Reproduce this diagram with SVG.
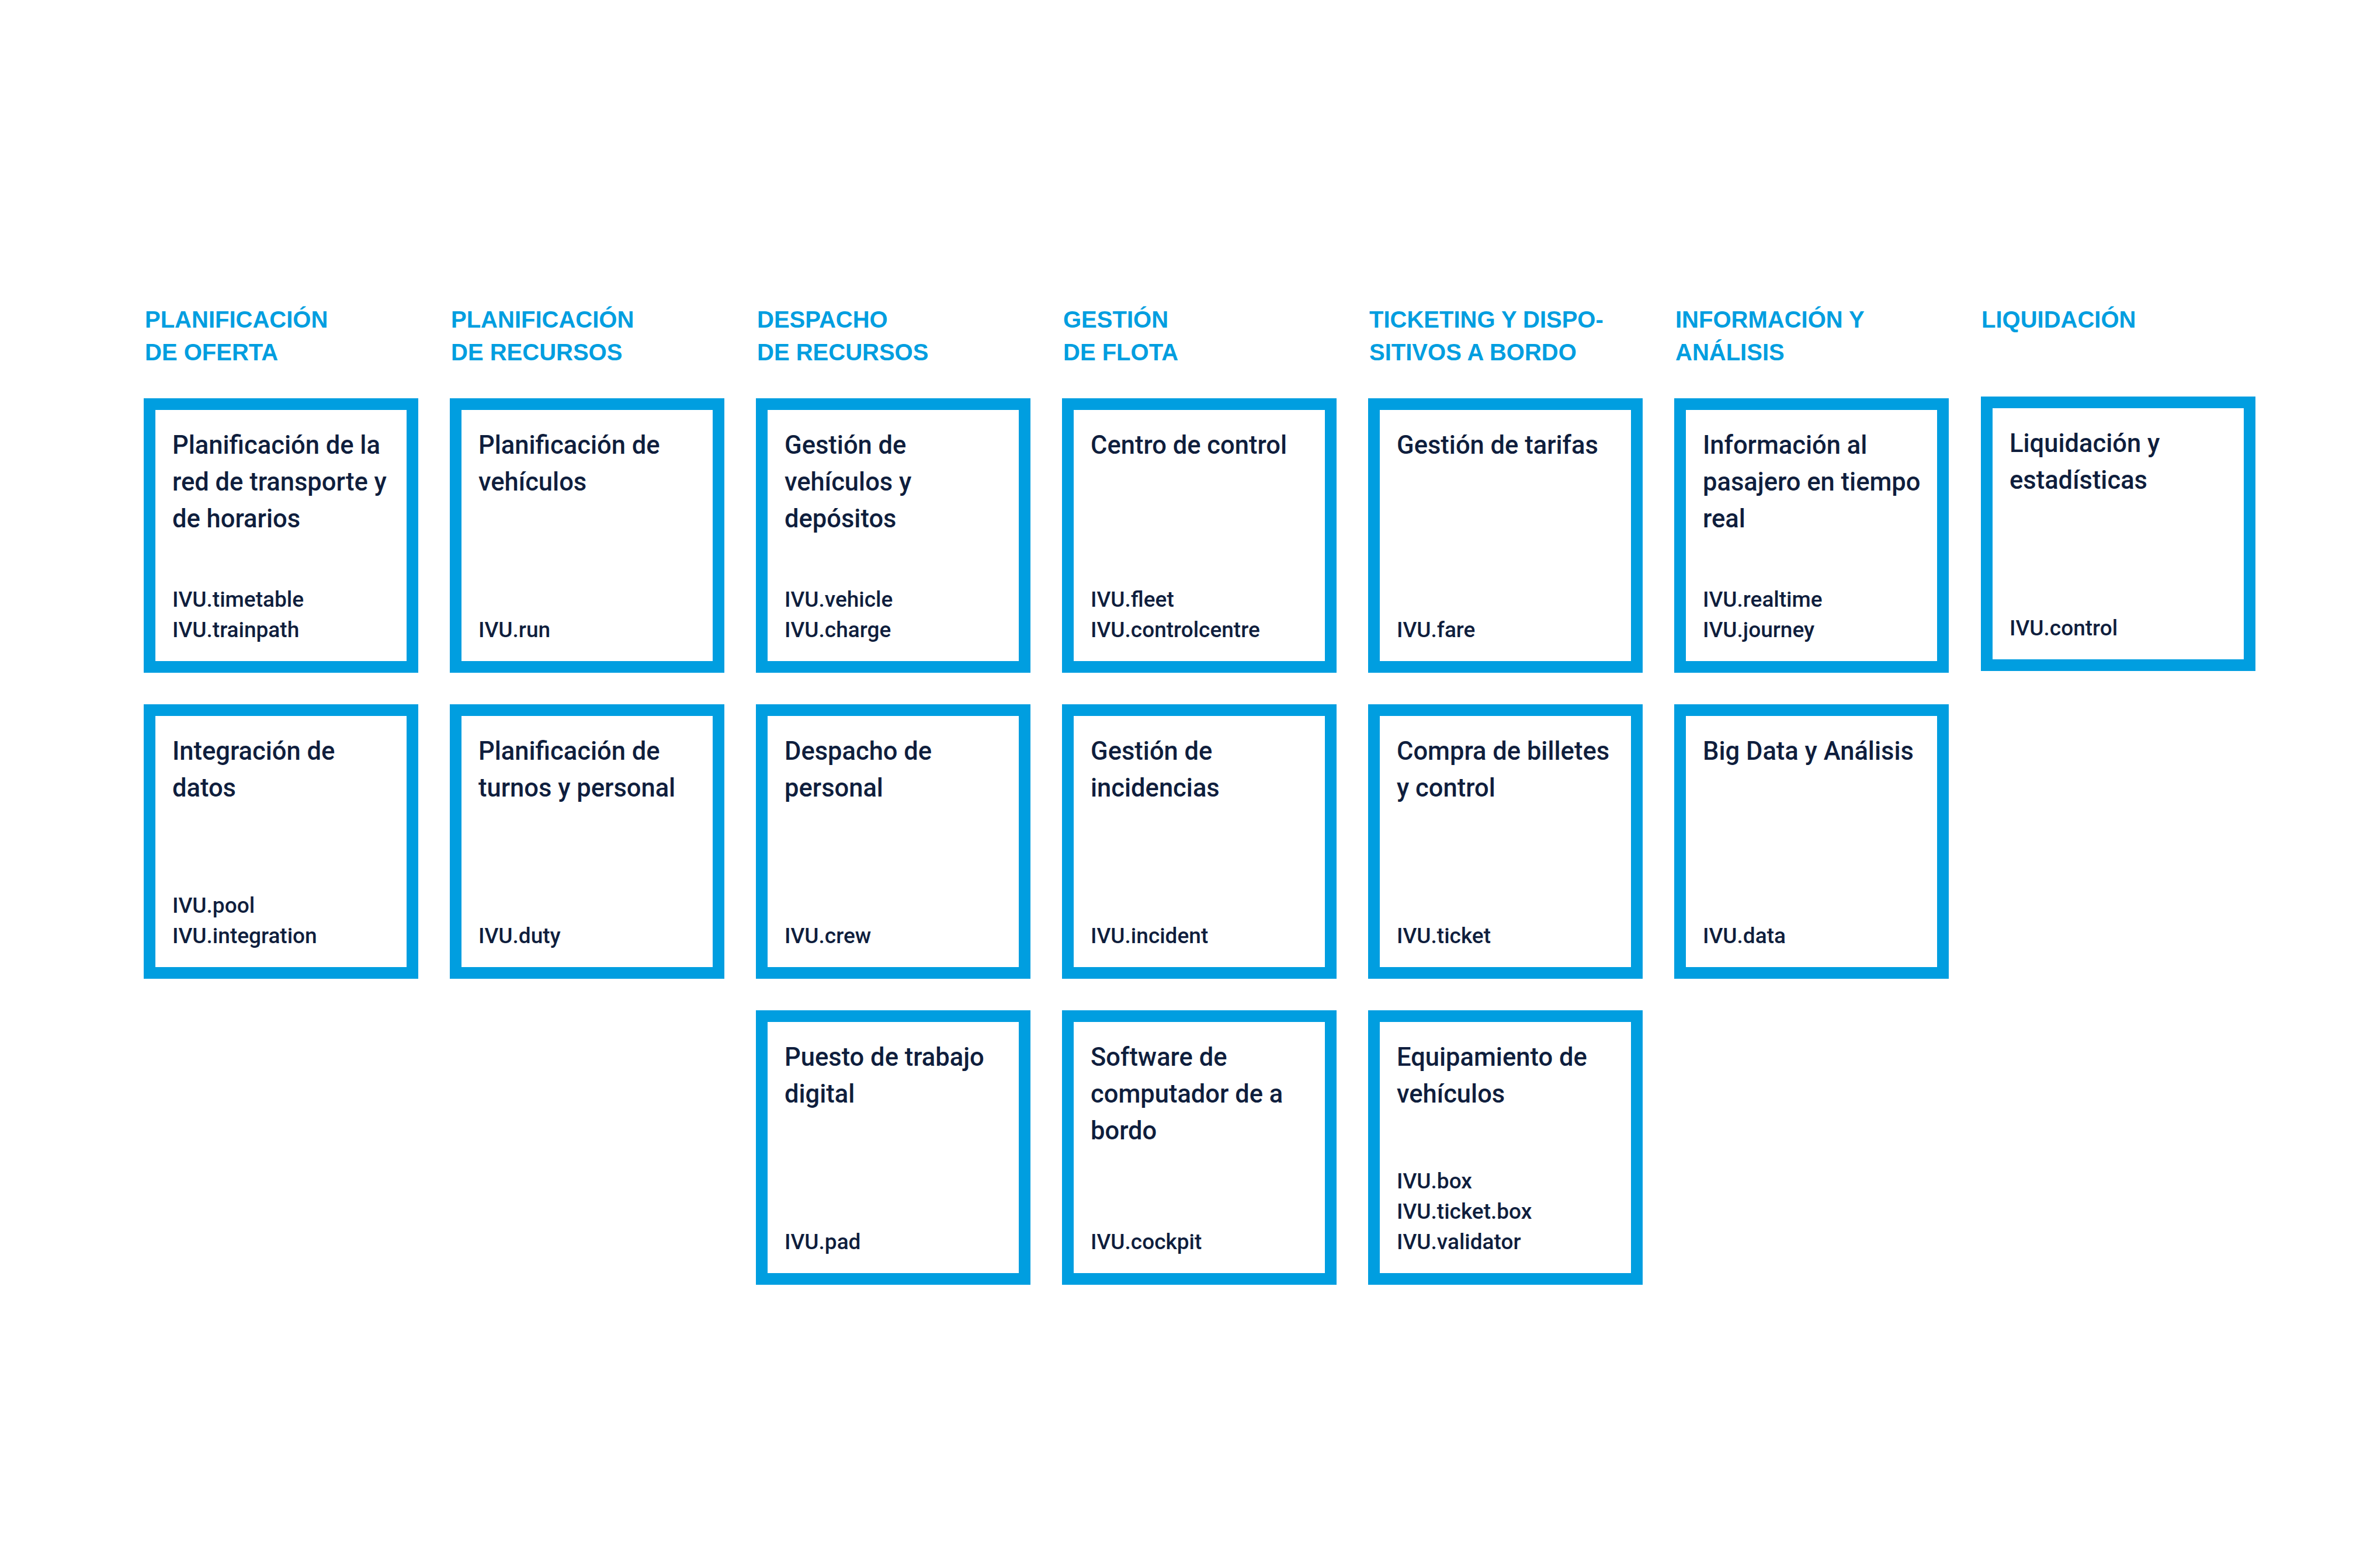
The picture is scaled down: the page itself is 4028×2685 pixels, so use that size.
<svg xmlns="http://www.w3.org/2000/svg" width="4028" height="2685" viewBox="0 0 4028 2685">
<style>
.bg{fill:#ffffff}
.box{fill:#ffffff;stroke:#009EE0;stroke-width:20}
.hdr{font-family:"Liberation Sans",Arial,sans-serif;font-weight:700;font-size:40px;fill:#009EE0}
.ttl{font-family:Roboto,"Liberation Sans",sans-serif;font-weight:500;font-size:43.5px;fill:#0F1E3D}
.prd{font-family:Roboto,"Liberation Sans",sans-serif;font-weight:500;font-size:37px;fill:#0F1E3D}
</style>
<rect class="bg" x="0" y="0" width="4028" height="2685"/>
<g id="headers">
<text class="hdr" x="248" y="561">PLANIFICACIÓN<tspan x="248" y="617">DE OFERTA</tspan></text>
<text class="hdr" x="772" y="561">PLANIFICACIÓN<tspan x="772" y="617">DE RECURSOS</tspan></text>
<text class="hdr" x="1296" y="561">DESPACHO<tspan x="1296" y="617">DE RECURSOS</tspan></text>
<text class="hdr" x="1820" y="561">GESTIÓN<tspan x="1820" y="617">DE FLOTA</tspan></text>
<text class="hdr" x="2344" y="561">TICKETING Y DISPO-<tspan x="2344" y="617">SITIVOS A BORDO</tspan></text>
<text class="hdr" x="2868" y="561">INFORMACIÓN Y<tspan x="2868" y="617">ANÁLISIS</tspan></text>
<text class="hdr" x="3392" y="561">LIQUIDACIÓN</text>
</g>
<g id="connectors"></g>

<g id="n-c1r1" transform="translate(246,682)">
<rect class="box" x="10" y="10" width="450" height="450"/>
<text class="ttl" x="49" y="95">Planificación de la<tspan x="49" dy="63">red de transporte y</tspan><tspan x="49" dy="63">de horarios</tspan></text>
<text class="prd" x="49" y="357">IVU.timetable<tspan x="49" dy="52">IVU.trainpath</tspan></text>
</g>
<g id="n-c1r2" transform="translate(246,1206)">
<rect class="box" x="10" y="10" width="450" height="450"/>
<text class="ttl" x="49" y="95">Integración de<tspan x="49" dy="63">datos</tspan></text>
<text class="prd" x="49" y="357">IVU.pool<tspan x="49" dy="52">IVU.integration</tspan></text>
</g>

<g id="n-c2r1" transform="translate(770,682)">
<rect class="box" x="10" y="10" width="450" height="450"/>
<text class="ttl" x="49" y="95">Planificación de<tspan x="49" dy="63">vehículos</tspan></text>
<text class="prd" x="49" y="409">IVU.run</text>
</g>
<g id="n-c2r2" transform="translate(770,1206)">
<rect class="box" x="10" y="10" width="450" height="450"/>
<text class="ttl" x="49" y="95">Planificación de<tspan x="49" dy="63">turnos y personal</tspan></text>
<text class="prd" x="49" y="409">IVU.duty</text>
</g>

<g id="n-c3r1" transform="translate(1294,682)">
<rect class="box" x="10" y="10" width="450" height="450"/>
<text class="ttl" x="49" y="95">Gestión de<tspan x="49" dy="63">vehículos y</tspan><tspan x="49" dy="63">depósitos</tspan></text>
<text class="prd" x="49" y="357">IVU.vehicle<tspan x="49" dy="52">IVU.charge</tspan></text>
</g>
<g id="n-c3r2" transform="translate(1294,1206)">
<rect class="box" x="10" y="10" width="450" height="450"/>
<text class="ttl" x="49" y="95">Despacho de<tspan x="49" dy="63">personal</tspan></text>
<text class="prd" x="49" y="409">IVU.crew</text>
</g>
<g id="n-c3r3" transform="translate(1294,1730)">
<rect class="box" x="10" y="10" width="450" height="450"/>
<text class="ttl" x="49" y="95">Puesto de trabajo<tspan x="49" dy="63">digital</tspan></text>
<text class="prd" x="49" y="409">IVU.pad</text>
</g>

<g id="n-c4r1" transform="translate(1818,682)">
<rect class="box" x="10" y="10" width="450" height="450"/>
<text class="ttl" x="49" y="95">Centro de control</text>
<text class="prd" x="49" y="357">IVU.fleet<tspan x="49" dy="52">IVU.controlcentre</tspan></text>
</g>
<g id="n-c4r2" transform="translate(1818,1206)">
<rect class="box" x="10" y="10" width="450" height="450"/>
<text class="ttl" x="49" y="95">Gestión de<tspan x="49" dy="63">incidencias</tspan></text>
<text class="prd" x="49" y="409">IVU.incident</text>
</g>
<g id="n-c4r3" transform="translate(1818,1730)">
<rect class="box" x="10" y="10" width="450" height="450"/>
<text class="ttl" x="49" y="95">Software de<tspan x="49" dy="63">computador de a</tspan><tspan x="49" dy="63">bordo</tspan></text>
<text class="prd" x="49" y="409">IVU.cockpit</text>
</g>

<g id="n-c5r1" transform="translate(2342,682)">
<rect class="box" x="10" y="10" width="450" height="450"/>
<text class="ttl" x="49" y="95">Gestión de tarifas</text>
<text class="prd" x="49" y="409">IVU.fare</text>
</g>
<g id="n-c5r2" transform="translate(2342,1206)">
<rect class="box" x="10" y="10" width="450" height="450"/>
<text class="ttl" x="49" y="95">Compra de billetes<tspan x="49" dy="63">y control</tspan></text>
<text class="prd" x="49" y="409">IVU.ticket</text>
</g>
<g id="n-c5r3" transform="translate(2342,1730)">
<rect class="box" x="10" y="10" width="450" height="450"/>
<text class="ttl" x="49" y="95">Equipamiento de<tspan x="49" dy="63">vehículos</tspan></text>
<text class="prd" x="49" y="305">IVU.box<tspan x="49" dy="52">IVU.ticket.box</tspan><tspan x="49" dy="52">IVU.validator</tspan></text>
</g>

<g id="n-c6r1" transform="translate(2866,682)">
<rect class="box" x="10" y="10" width="450" height="450"/>
<text class="ttl" x="49" y="95">Información al<tspan x="49" dy="63">pasajero en tiempo</tspan><tspan x="49" dy="63">real</tspan></text>
<text class="prd" x="49" y="357">IVU.realtime<tspan x="49" dy="52">IVU.journey</tspan></text>
</g>
<g id="n-c6r2" transform="translate(2866,1206)">
<rect class="box" x="10" y="10" width="450" height="450"/>
<text class="ttl" x="49" y="95">Big Data y Análisis</text>
<text class="prd" x="49" y="409">IVU.data</text>
</g>

<g id="n-c7r1" transform="translate(3391,679)">
<rect class="box" x="10" y="10" width="450" height="450"/>
<text class="ttl" x="49" y="95">Liquidación y<tspan x="49" dy="63">estadísticas</tspan></text>
<text class="prd" x="49" y="409">IVU.control</text>
</g>
</svg>
